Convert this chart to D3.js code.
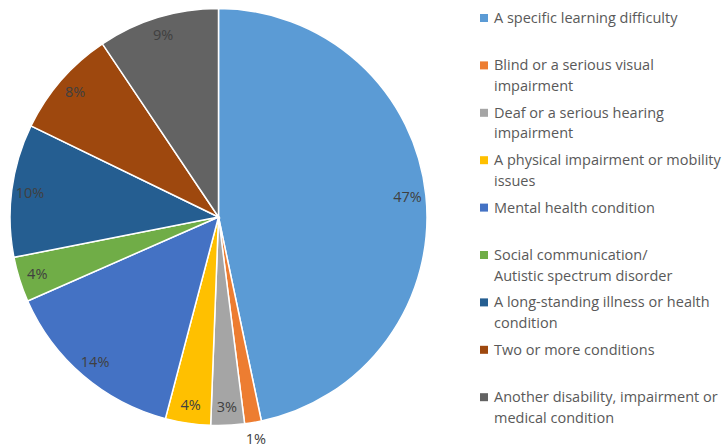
<!DOCTYPE html>
<html>
<head>
<meta charset="utf-8">
<script src="https://cdn.jsdelivr.net/npm/d3@7"></script>
<style>
  body { margin: 0; background: #fff; }
  svg { font-family: "Open Sans", sans-serif; }
</style>
</head>
<body>
<svg id="chart" width="727" height="447"></svg>
<script>
// categories (legend text, "\n" = line break as in the original legend)
var categories = [
  "A specific learning difficulty",
  "Blind or a serious visual\nimpairment",
  "Deaf or a serious hearing\nimpairment",
  "A physical impairment or mobility\nissues",
  "Mental health condition",
  "Social communication/\nAutistic spectrum disorder",
  "A long-standing illness or health\ncondition",
  "Two or more conditions",
  "Another disability, impairment or\nmedical condition"
];
// share of students, percent
var values = [46.7, 1.3, 2.6, 3.5, 14.3, 3.5, 10.3, 8.4, 9.4];
var colors = ["#5B9BD5", "#ED7D31", "#A5A5A5", "#FFC000", "#4472C4", "#70AD47", "#255E91", "#9E480E", "#636363"];

var svg = d3.select("#chart");
var cx = 218.5, cy = 217, radius = 208.5;

var data = categories.map((c, i) => ({ name: c, value: values[i], color: colors[i] }));
var pie = d3.pie().sort(null).value(d => d.value);
var arcs = pie(data);
var arc = d3.arc().innerRadius(0).outerRadius(radius);
var labelArc = d3.arc().innerRadius(190).outerRadius(190);
var outerLabelArc = d3.arc().innerRadius(225).outerRadius(225);

var g = svg.append("g").attr("transform", "translate(" + cx + "," + cy + ")");
g.selectAll("path.slice").data(arcs).join("path").attr("class", "slice")
  .attr("d", arc).attr("fill", d => d.data.color)
  .attr("stroke", "#fff").attr("stroke-width", 1.5);

//----------------------------------------------------labels
g.selectAll("text.lbl").data(arcs).join("text").attr("class", "lbl")
  .attr("transform", d => "translate(" + (d.data.value < 2 ? outerLabelArc : labelArc).centroid(d) + ")")
  .attr("text-anchor", "middle").attr("dy", "0.35em")
  .attr("font-size", 14.5).attr("fill", "#404040")
  .text(d => Math.round(d.data.value) + "%");

//----------------------------------------------------legend
var legend_x = 480, legend_y = 18, item_gap = 47.4, line_gap = 20.5;
var items = svg.selectAll("g.legend").data(data).join("g").attr("class", "legend")
  .attr("transform", (d, i) => "translate(" + legend_x + "," + (legend_y + i * item_gap) + ")");
items.append("rect").attr("x", 0).attr("y", -4).attr("width", 8).attr("height", 8).attr("fill", d => d.color);
items.append("text").attr("x", 14).attr("font-size", 14.5).attr("fill", "#595959")
  .attr("add_lines", function (d) {
    d3.select(this).selectAll("tspan").data(d.name.split("\n")).join("tspan")
      .attr("x", 14).attr("y", (t, j) => j * line_gap).attr("dy", "0.35em").text(t => t);
  });
</script>
</body>
</html>
